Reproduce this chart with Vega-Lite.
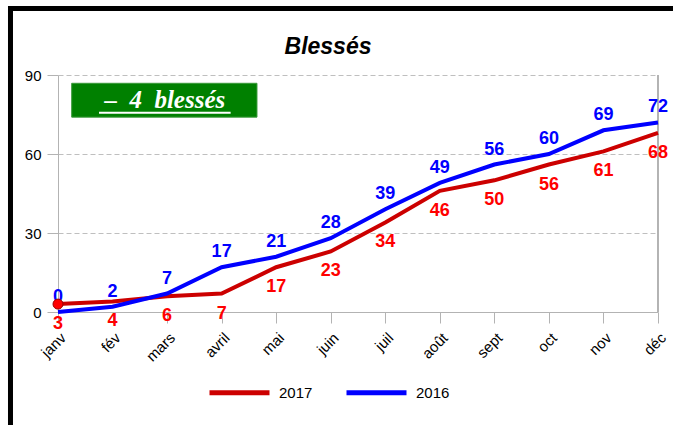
{
  "$schema": "https://vega.github.io/schema/vega-lite/v6.json",
  "width": 600,
  "height": 237,
  "autosize": "none",
  "padding": {"left": 58, "top": 75, "right": 15, "bottom": 113},
  "background": "white",
  "config": {
    "view": {"stroke": null},
    "font": "Liberation Sans"
  },
  "title": {
    "text": "Blessés",
    "font": "Liberation Sans",
    "fontSize": 23,
    "fontWeight": "bold",
    "fontStyle": "italic",
    "color": "#000000",
    "anchor": "middle",
    "frame": "group",
    "dx": -30,
    "offset": -53
  },
  "data": {
    "values": [
      {"m": 0, "serie": "2017", "v": 3},
      {"m": 1, "serie": "2017", "v": 4},
      {"m": 2, "serie": "2017", "v": 6},
      {"m": 3, "serie": "2017", "v": 7},
      {"m": 4, "serie": "2017", "v": 17},
      {"m": 5, "serie": "2017", "v": 23},
      {"m": 6, "serie": "2017", "v": 34},
      {"m": 7, "serie": "2017", "v": 46},
      {"m": 8, "serie": "2017", "v": 50},
      {"m": 9, "serie": "2017", "v": 56},
      {"m": 10, "serie": "2017", "v": 61},
      {"m": 11, "serie": "2017", "v": 68},
      {"m": 0, "serie": "2016", "v": 0},
      {"m": 1, "serie": "2016", "v": 2},
      {"m": 2, "serie": "2016", "v": 7},
      {"m": 3, "serie": "2016", "v": 17},
      {"m": 4, "serie": "2016", "v": 21},
      {"m": 5, "serie": "2016", "v": 28},
      {"m": 6, "serie": "2016", "v": 39},
      {"m": 7, "serie": "2016", "v": 49},
      {"m": 8, "serie": "2016", "v": 56},
      {"m": 9, "serie": "2016", "v": 60},
      {"m": 10, "serie": "2016", "v": 69},
      {"m": 11, "serie": "2016", "v": 72}
    ]
  },
  "layer": [
    {
      "transform": [{"filter": "datum.serie == '2017' && datum.m == 0"}],
      "mark": {"type": "rect", "fill": "#008000", "stroke": "#3a9a3a", "strokeWidth": 1},
      "encoding": {
        "x": {"datum": 0.251, "type": "quantitative", "scale": {"domain": [0, 11], "nice": false, "zero": false}},
        "x2": {"datum": 3.648},
        "y": {"datum": 86.85, "type": "quantitative", "scale": {"domain": [0, 90], "nice": false}},
        "y2": {"datum": 74.0}
      }
    },
    {
      "transform": [{"filter": "datum.serie == '2017' && datum.m == 0"}],
      "mark": {"type": "text", "color": "#ffffff", "font": "Liberation Serif", "fontSize": 25, "fontStyle": "italic", "fontWeight": "bold", "align": "center", "baseline": "alphabetic"},
      "encoding": {
        "x": {"datum": 1.958, "type": "quantitative"},
        "y": {"datum": 77.35, "type": "quantitative"},
        "text": {"value": "– \u00a04 \u00a0blessés"}
      }
    },
    {
      "transform": [{"filter": "datum.serie == '2017' && datum.m == 0"}],
      "mark": {"type": "rule", "color": "#ffffff", "strokeWidth": 2},
      "encoding": {
        "x": {"datum": 0.752, "type": "quantitative"},
        "x2": {"datum": 3.165},
        "y": {"datum": 75.68, "type": "quantitative"}
      }
    },
    {
      "mark": {"type": "rule", "color": "#b3b3b3", "strokeWidth": 1},
      "encoding": {
        "x": {"datum": 11, "type": "quantitative"},
        "y": {"datum": 0, "type": "quantitative"},
        "y2": {"datum": 90}
      }
    },
    {
      "mark": {"type": "line", "strokeWidth": 4, "strokeCap": "butt", "strokeJoin": "miter"},
      "encoding": {
        "x": {
          "field": "m",
          "type": "quantitative",
          "axis": {
            "title": null,
            "values": [0, 1, 2, 3, 4, 5, 6, 7, 8, 9, 10, 11],
            "labelExpr": "['janv','fév','mars','avril','mai','juin','juil','août','sept','oct','nov','déc'][datum.value]",
            "labelAngle": -45,
            "labelAlign": "right",
            "labelBaseline": "top",
            "labelFontSize": 15,
            "labelColor": "#000000",
            "labelPadding": 7,
            "labelFlush": false,
            "labelOverlap": false,
            "grid": false,
            "domainColor": "#b3b3b3",
            "domainWidth": 1,
            "tickColor": "#b3b3b3",
            "tickSize": 11,
            "tickWidth": 1
          }
        },
        "y": {
          "field": "v",
          "type": "quantitative",
          "axis": {
            "title": null,
            "values": [0, 30, 60, 90],
            "labelFontSize": 15,
            "labelColor": "#000000",
            "labelPadding": 6,
            "grid": true,
            "gridColor": "#bfbfbf",
            "gridDash": [5, 3],
            "gridWidth": 1,
            "domainColor": "#b3b3b3",
            "tickColor": "#b3b3b3",
            "tickSize": 11
          }
        },
        "color": {
          "field": "serie",
          "type": "nominal",
          "scale": {"domain": ["2017", "2016"], "range": ["#cc0000", "#0000ff"]},
          "legend": {
            "title": null,
            "orient": "none",
            "direction": "horizontal",
            "legendX": 149,
            "legendY": 285,
            "symbolType": "stroke",
            "symbolSize": 3600,
            "symbolStrokeWidth": 5,
            "labelFontSize": 15,
            "labelColor": "#000000",
            "labelOffset": 7,
            "columnPadding": 23
          }
        }
      }
    },
    {
      "transform": [{"filter": "datum.serie == '2016'"}],
      "mark": {"type": "text", "color": "#0000ff", "fontSize": 18, "fontWeight": "bold", "baseline": "alphabetic", "dy": -10},
      "encoding": {
        "x": {"field": "m", "type": "quantitative"},
        "y": {"field": "v", "type": "quantitative"},
        "text": {"field": "v", "type": "quantitative"}
      }
    },
    {
      "transform": [{"filter": "datum.serie == '2017'"}],
      "mark": {"type": "text", "color": "#ff0000", "fontSize": 18, "fontWeight": "bold", "baseline": "alphabetic", "dy": 25},
      "encoding": {
        "x": {"field": "m", "type": "quantitative"},
        "y": {"field": "v", "type": "quantitative"},
        "text": {"field": "v", "type": "quantitative"}
      }
    },
    {
      "transform": [{"filter": "datum.serie == '2017' && datum.m == 0"}],
      "mark": {"type": "point", "shape": "circle", "filled": true, "size": 100, "fill": "#ff0000", "stroke": "#990000", "strokeWidth": 1, "opacity": 1},
      "encoding": {
        "x": {"field": "m", "type": "quantitative"},
        "y": {"field": "v", "type": "quantitative"}
      }
    },
    {
      "transform": [{"filter": "datum.serie == '2017' && datum.m == 0"}],
      "mark": {"type": "rect", "fill": null, "stroke": "#000000", "strokeWidth": 5, "clip": false},
      "encoding": {
        "x": {"datum": -0.871, "type": "quantitative"},
        "x2": {"datum": 13},
        "y": {"datum": 115.25, "type": "quantitative"},
        "y2": {"datum": -60}
      }
    }
  ]
}
